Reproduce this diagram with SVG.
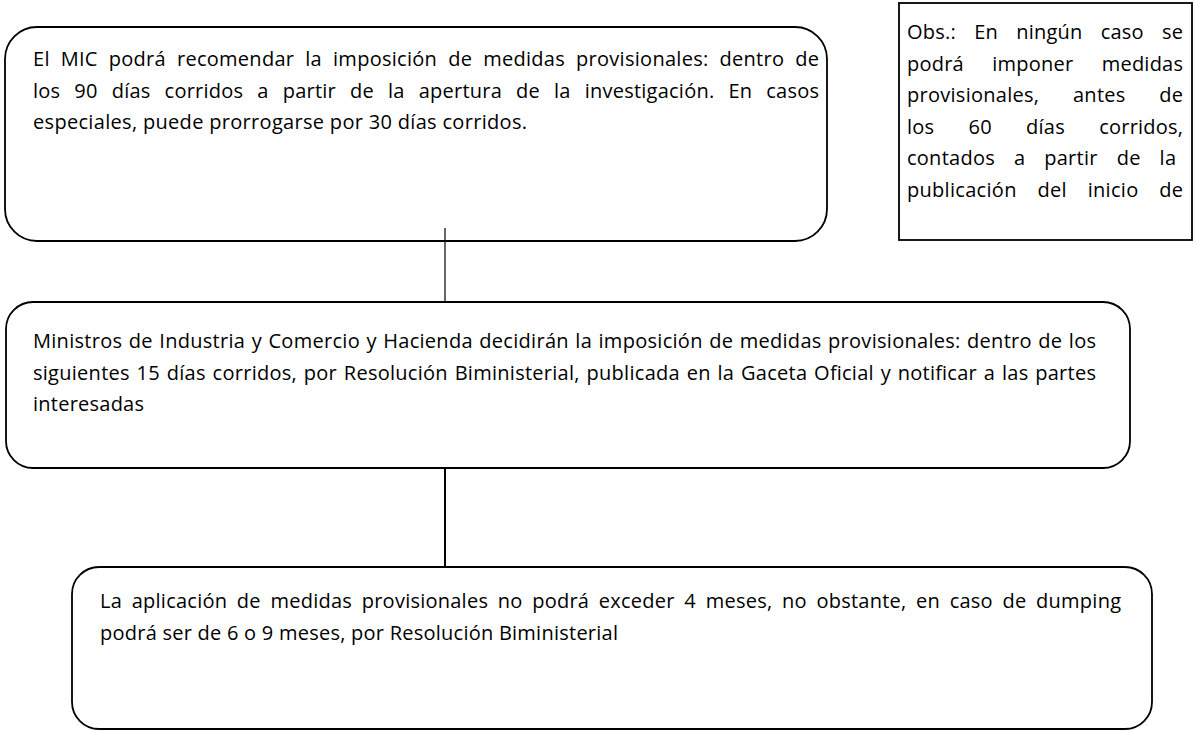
<svg xmlns="http://www.w3.org/2000/svg" width="1196" height="731" viewBox="0 0 1196 731">
<style>
.box{fill:#fff;stroke:#000;stroke-width:1.8}
.t{font-family:"Open Sans","Noto Sans","Liberation Sans",sans-serif;font-size:20px;fill:#000}
.c1{stroke:#000;stroke-width:1.2;fill:none}
.c2{stroke:#000;stroke-width:2;fill:none}
</style>
<rect width="1196" height="731" fill="#fff"/>
<g id="node-mic">
<rect class="box" x="5" y="27" width="822" height="214" rx="32" ry="32"/>
<text class="t" x="33" y="66" textLength="786" lengthAdjust="spacing" word-spacing="5.5">El MIC podrá recomendar la imposición de medidas provisionales: dentro de</text>
<text class="t" x="33" y="97.5" textLength="786" lengthAdjust="spacing" word-spacing="8.6">los 90 días corridos a partir de la apertura de la investigación. En casos</text>
<text class="t" x="33" y="129" textLength="494" lengthAdjust="spacing">especiales, puede prorrogarse por 30 días corridos.</text>
</g>
<g id="node-obs">
<rect class="box" x="899" y="3" width="293" height="237"/>
<text class="t" x="907" y="39" textLength="276" lengthAdjust="spacing" word-spacing="12.8">Obs.: En ningún caso se</text>
<text class="t" x="907" y="70.5" textLength="276" lengthAdjust="spacing" word-spacing="22.9">podrá imponer medidas</text>
<text class="t" x="907" y="102" textLength="276" lengthAdjust="spacing" word-spacing="28.2">provisionales, antes de</text>
<text class="t" x="907" y="133.5" textLength="276" lengthAdjust="spacing" word-spacing="28.8">los 60 días corridos,</text>
<text class="t" x="907" y="165" textLength="269" lengthAdjust="spacing" word-spacing="13.5">contados a partir de la</text>
<text class="t" x="907" y="196.5" textLength="276" lengthAdjust="spacing" word-spacing="15.3">publicación del inicio de</text>
</g>
<g id="node-ministros">
<rect class="box" x="6" y="302" width="1124" height="166" rx="27" ry="27"/>
<text class="t" x="33" y="348" textLength="1063" lengthAdjust="spacing" word-spacing="1">Ministros de Industria y Comercio y Hacienda decidirán la imposición de medidas provisionales: dentro de los</text>
<text class="t" x="33" y="379.5" textLength="1063" lengthAdjust="spacing" word-spacing="1.3">siguientes 15 días corridos, por Resolución Biministerial, publicada en la Gaceta Oficial y notificar a las partes</text>
<text class="t" x="33" y="411" textLength="111" lengthAdjust="spacing">interesadas</text>
</g>
<g id="node-aplicacion">
<rect class="box" x="72" y="567" width="1080" height="162" rx="27" ry="27"/>
<text class="t" x="100" y="608" textLength="1021" lengthAdjust="spacing" word-spacing="4.2">La aplicación de medidas provisionales no podrá exceder 4 meses, no obstante, en caso de dumping</text>
<text class="t" x="100" y="639.5" textLength="518" lengthAdjust="spacing">podrá ser de 6 o 9 meses, por Resolución Biministerial</text>
</g>
<g id="connectors">
<line class="c1" x1="445" y1="228" x2="445" y2="302"/>
<line class="c2" x1="445" y1="468" x2="445" y2="567"/>
</g>
</svg>
